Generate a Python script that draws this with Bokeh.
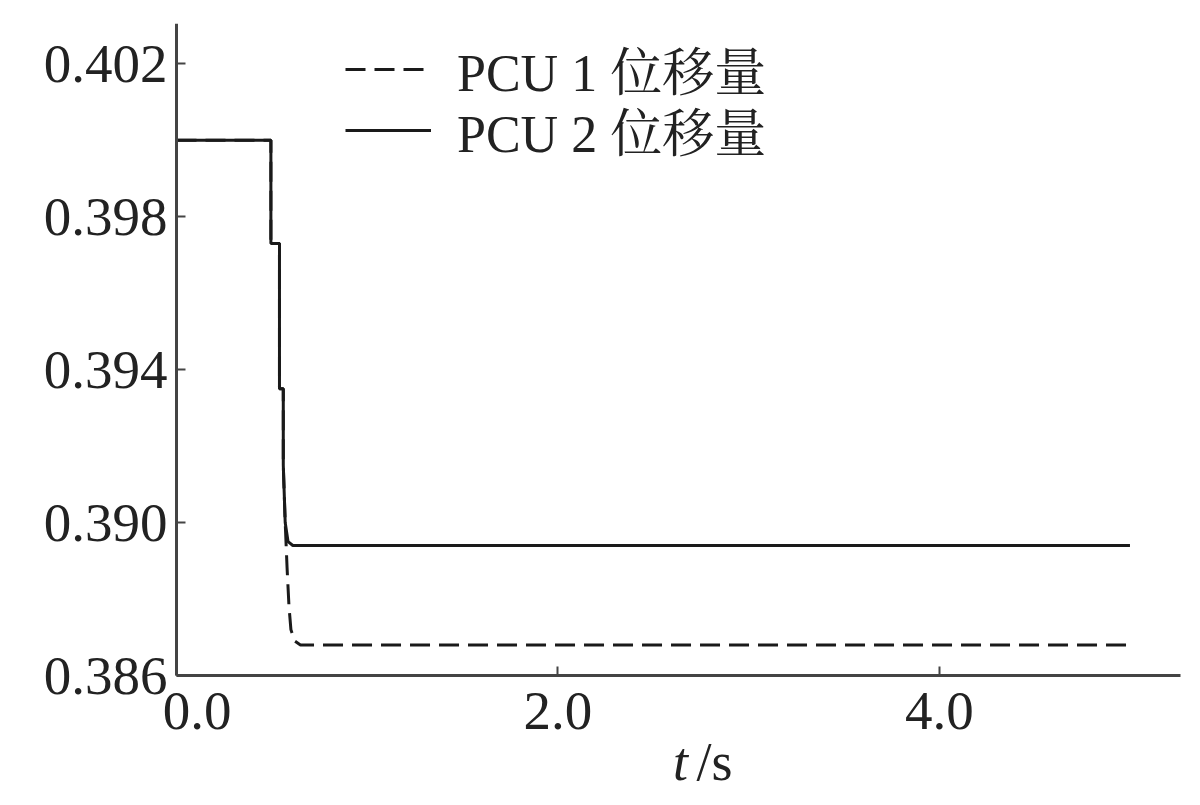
from bokeh.plotting import figure
from bokeh.models import Range1d, FixedTicker, Label, Legend, LegendItem
from bokeh.embed import file_html
from bokeh.resources import INLINE

# Data
t_pcu1 = [0.0, 0.495, 0.495, 0.54, 0.54, 0.56, 0.56, 0.57, 0.58, 0.59, 0.60, 0.62, 0.65, 5.0]
d_pcu1 = [0.4000, 0.4000, 0.3973, 0.3973, 0.3935, 0.3935, 0.3915, 0.3900, 0.3888, 0.3878, 0.3872, 0.3869, 0.3868, 0.3868]
t_pcu2 = [0.0, 0.495, 0.495, 0.54, 0.54, 0.56, 0.56, 0.57, 0.585, 0.61, 5.0]
d_pcu2 = [0.4000, 0.4000, 0.3973, 0.3973, 0.3935, 0.3935, 0.3915, 0.3900, 0.3895, 0.3894, 0.3894]
x_ticks = [0, 2, 4]
x_tick_labels = ["\u00a0\u00a0\u00a00.0", "2.0", "4.0"]
y_ticks = [0.386, 0.390, 0.394, 0.398, 0.402]
y_tick_labels = ["0.386", "0.390", "0.394", "0.398", "0.402"]
series_names = ["PCU 1 位移量", "PCU 2 位移量"]
x_title_italic = "t"
x_title_rest = "/s"

FONT = "'Liberation Serif', 'Noto Serif CJK SC', 'Noto Sans CJK SC', serif"
FS = "55px"
INK = "#222222"

W, H = 1184, 797
AX_L, AX_R, AX_T, AX_B = 176, 1180, 23, 675   # pixel box of the axes (canvas coords)
X0, X1 = 0.0, 5.265
Y0, Y1 = 0.386, 0.40305
XS = (AX_R - AX_L) / (X1 - X0)
YS = (AX_B - AX_T) / (Y1 - Y0)
# frame covers the whole canvas below/left of the axes so that texts are not clipped
XR0 = X0 - AX_L / XS
XR1 = X1 + (W - AX_R) / XS
YR0 = Y0 - (H - AX_B) / YS

p = figure(width=W, height=H, output_backend="svg", toolbar_location=None,
           x_range=Range1d(XR0, XR1), y_range=Range1d(YR0, Y1),
           min_border_left=0, min_border_right=0, min_border_top=AX_T, min_border_bottom=0)
p.outline_line_color = None
p.grid.visible = False
p.background_fill_color = "white"

for ax in (p.xaxis[0], p.yaxis[0]):
    ax.axis_line_color = "#444444"
    ax.axis_line_width = 3
    ax.major_tick_line_color = "#444444"
    ax.major_tick_line_width = 2
    ax.major_tick_in = 9
    ax.major_tick_out = 0
    ax.minor_tick_line_color = None
    ax.major_label_text_font = FONT
    ax.major_label_text_font_size = FS
    ax.major_label_text_color = INK

p.xaxis[0].fixed_location = Y0
p.xaxis[0].bounds = (X0, X1)
p.xaxis[0].ticker = FixedTicker(ticks=x_ticks)
p.xaxis[0].major_label_overrides = {v: s for v, s in zip(x_ticks, x_tick_labels)}
p.xaxis[0].major_label_standoff = 4
p.yaxis[0].fixed_location = X0
p.yaxis[0].bounds = (Y0, Y1)
p.yaxis[0].ticker = FixedTicker(ticks=y_ticks)
p.yaxis[0].major_label_overrides = {v: s for v, s in zip(y_ticks, y_tick_labels)}
p.yaxis[0].major_label_standoff = 9

r1 = p.line(t_pcu1, d_pcu1, line_color="#1a1a1a", line_width=3, line_dash="20 9")
r2 = p.line(t_pcu2, d_pcu2, line_color="#1a1a1a", line_width=3)

common = dict(orientation="vertical", label_text_font=FONT, label_text_font_size="52px",
              label_text_color=INK, glyph_width=86, glyph_height=40, label_height=40,
              label_standoff=26, padding=0, margin=0,
              border_line_color=None, background_fill_alpha=0)
leg1 = Legend(items=[LegendItem(label=series_names[0], renderers=[r1])],
              location=(345, H - 106), **common)
leg2 = Legend(items=[LegendItem(label=series_names[1], renderers=[r2])],
              location=(345, H - 167), **common)
p.add_layout(leg1, "center")
p.add_layout(leg2, "center")

# axis title "t/s" with italic t (inside the frame, below the axis)
y_title = Y0 - (761 - AX_B) / YS
p.add_layout(Label(x=X0 + (680 - AX_L) / XS, y=y_title, text=x_title_italic,
                   text_font=FONT, text_font_size="54px", text_font_style="italic",
                   text_color=INK, text_align="center", text_baseline="middle"))
p.add_layout(Label(x=X0 + (714 - AX_L) / XS, y=y_title, text=x_title_rest,
                   text_font=FONT, text_font_size="54px", text_color=INK,
                   text_align="center", text_baseline="middle"))

open("out.html", "w").write(file_html(p, INLINE))
